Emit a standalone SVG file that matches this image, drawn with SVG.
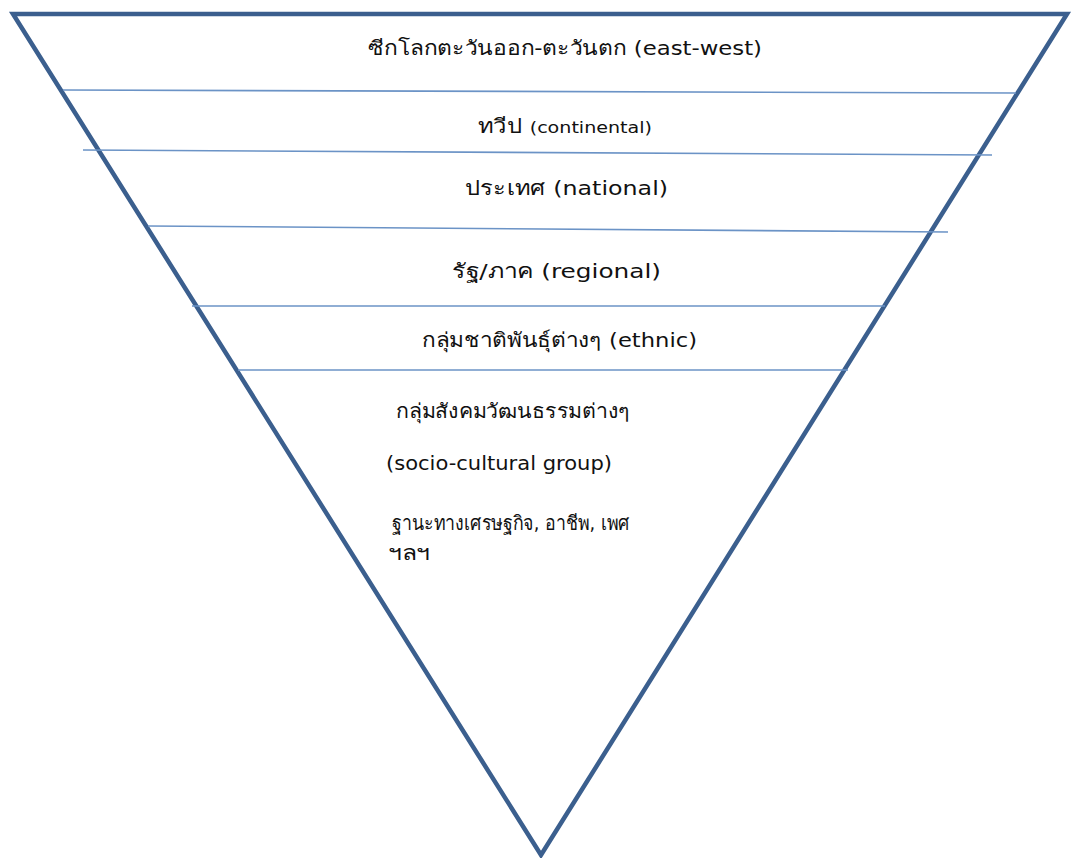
<svg xmlns="http://www.w3.org/2000/svg" width="1072" height="858" viewBox="0 0 1072 858">
  <style>
    .frame { fill: none; stroke: #3b5f8e; stroke-width: 4.5; stroke-linejoin: miter; }
    .divider { stroke: #6b93c6; stroke-width: 1.6; fill: none; }
    .label { font-family: "DejaVu Sans", "Noto Sans", sans-serif; font-size: 20px; fill: #111; }
    .small { font-size: 16px; }
  </style>
  <rect width="1072" height="858" fill="#ffffff"/>

  <!-- outer inverted triangle -->
  <g id="triangle">
    <path class="frame" d="M13,14 L1067,14 L541,855 Z"/>
  </g>

  <!-- level dividers -->
  <g id="connectors">
    <path class="divider" d="M63,90 L1016,93"/>
    <path class="divider" d="M83,150 L992,155"/>
    <path class="divider" d="M148,226 L948,232"/>
    <path class="divider" d="M192,306 L885,306"/>
    <path class="divider" d="M238,370 L848,370"/>
  </g>

  <g id="level-east-west">
    <text class="label" x="368" y="55" textLength="394" lengthAdjust="spacingAndGlyphs">ซีกโลกตะวันออก-ตะวันตก (east-west)</text>
  </g>
  <g id="level-continental">
    <text class="label" x="478" y="133" textLength="174" lengthAdjust="spacingAndGlyphs">ทวีป <tspan class="small">(continental)</tspan></text>
  </g>
  <g id="level-national">
    <text class="label" x="465" y="195" textLength="203" lengthAdjust="spacingAndGlyphs">ประเทศ (national)</text>
  </g>
  <g id="level-regional">
    <text class="label" x="452" y="278" textLength="209" lengthAdjust="spacingAndGlyphs">รัฐ/ภาค (regional)</text>
  </g>
  <g id="level-ethnic">
    <text class="label" x="422" y="347" textLength="275" lengthAdjust="spacingAndGlyphs">กลุ่มชาติพันธุ์ต่างๆ (ethnic)</text>
  </g>
  <g id="level-socio-cultural">
    <text class="label" x="396" y="418" textLength="234" lengthAdjust="spacingAndGlyphs">กลุ่มสังคมวัฒนธรรมต่างๆ</text>
    <text class="label" x="386" y="470" textLength="226" lengthAdjust="spacingAndGlyphs">(socio-cultural group)</text>
    <text class="label" x="392" y="530" textLength="238" lengthAdjust="spacingAndGlyphs">ฐานะทางเศรษฐกิจ, อาชีพ, เพศ</text>
    <text class="label" x="388" y="560" textLength="42" lengthAdjust="spacingAndGlyphs">ฯลฯ</text>
  </g>
</svg>
